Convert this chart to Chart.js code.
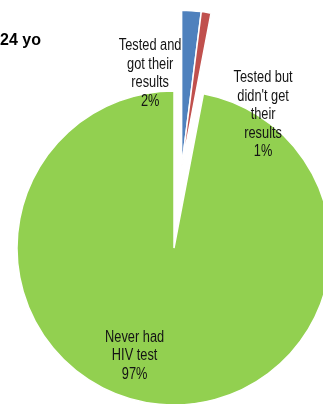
<!DOCTYPE html>
<html>
<head>
<meta charset="utf-8">
<script src="https://cdn.jsdelivr.net/npm/chart.js@4"></script>
<style>
  html, body { margin: 0; padding: 0; background: #fff; overflow: hidden; }
  body { width: 323px; height: 404px; position: relative; }
  #pie { position: absolute; left: -76px; top: -12px; }
  .title {
    position: absolute; left: 0; top: 31px;
    font: bold 16px/18px "Liberation Sans", Arial, sans-serif; color: #000;
  }
</style>
</head>
<body>
<canvas id="pie" width="500" height="520"></canvas>
<div class="title">24 yo</div>
<script>
// categories, values (%) and the label text shown on each slice
var categories = ["Tested and got their results", "Tested but didn't get their results", "Never had HIV test"];
var values = [2, 1, 97];
var labelLines = [
    ["Tested and", "got their", "results"],
    ["Tested but", "didn't get", "their", "results"],
    ["Never had", "HIV test"]
];
var colors = ['#4F81BD', '#C0504D', '#92D050'];

// the two "tested" slices are pulled out together, as one block
var explodedSlices = [0, 1];
var explodeDist = 81;

// labels were dragged around in the original, so nudge them off the mid angle
var labelPlace = [
    { r: 1.12, turn: -11.4 },
    { r: 1.02, turn: 24.8 },
    { r: 0.73, turn: 14.7 }
];

var explodeGroup = {
    id: 'explodeGroup',
    afterUpdate: function(chart) {
        var arcs = chart.getDatasetMeta(0).data;
        var start = Math.min.apply(null, explodedSlices.map(function(i) { return arcs[i].startAngle; }));
        var end = Math.max.apply(null, explodedSlices.map(function(i) { return arcs[i].endAngle; }));
        var mid = (start + end) / 2;
        var dx = Math.cos(mid) * explodeDist, dy = Math.sin(mid) * explodeDist;
        explodedSlices.forEach(function(i) {
            var el = arcs[i];
            var baseDraw = Object.getPrototypeOf(el).draw;
            el.draw = function(ctx, area) {
                ctx.save();
                ctx.translate(dx, dy);
                baseDraw.call(this, ctx, area);
                ctx.restore();
            };
        });
    }
};

var sliceLabels = {
    id: 'sliceLabels',
    afterDatasetsDraw: function(chart) {
        var ctx = chart.ctx;
        var meta = chart.getDatasetMeta(0);
        var squeeze = 0.8; // original used a narrow face
        meta.data.forEach(function(arc, i) {
            var p = labelPlace[i];
            var mid = (arc.startAngle + arc.endAngle) / 2 + p.turn * Math.PI / 180;
            var rad = arc.outerRadius * p.r;
            var cx = arc.x + Math.cos(mid) * rad;
            var cy = arc.y + Math.sin(mid) * rad;
            var lines = labelLines[i].concat([values[i] + '%']);
            var lh = 18.5;
            ctx.save();
            ctx.translate(cx, cy);
            ctx.scale(squeeze, 1);
            ctx.font = '16px "Liberation Sans", Arial, sans-serif';
            ctx.fillStyle = '#141414';
            ctx.textAlign = 'center';
            ctx.textBaseline = 'middle';
            lines.forEach(function(t, k) {
                ctx.fillText(t, 0, (k - (lines.length - 1) / 2) * lh);
            });
            ctx.restore();
        });
    }
};

var chartGraph = new Chart(document.getElementById('pie'), {
    type: 'pie',
    data: {
        labels: categories,
        datasets: [{
            data: values,
            backgroundColor: colors,
            borderColor: '#fff',
            borderWidth: 1.5,
            radius: 157
        }]
    },
    options: {
        responsive: false,
        animation: false,
        layout: { padding: 0 },
        plugins: {
            legend: { display: false },
            tooltip: { enabled: false }
        }
    },
    plugins: [explodeGroup, sliceLabels]
});
</script>
</body>
</html>
